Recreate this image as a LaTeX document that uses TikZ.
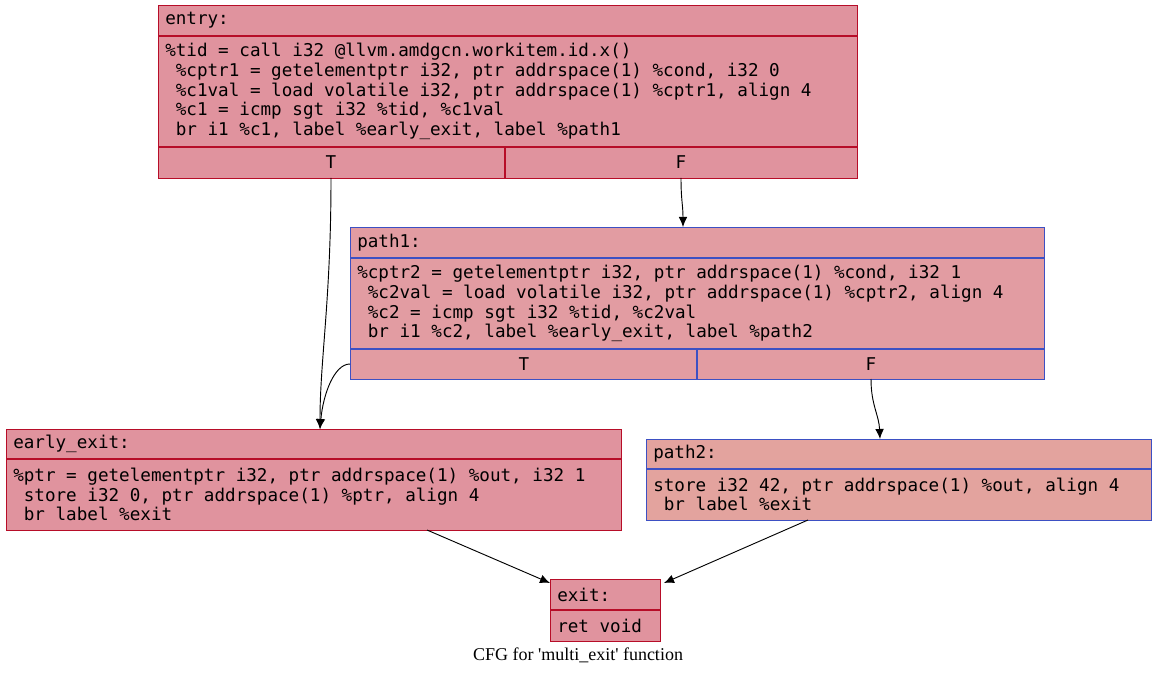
\documentclass[tikz,border=0pt]{standalone}
\usepackage{fontspec}
\setmonofont{DejaVu Sans Mono}
\newfontfamily\capfont{Liberation Serif}
\usetikzlibrary{arrows.meta}
\definecolor{fr}{RGB}{224,147,158}
\definecolor{fp}{RGB}{226,156,162}
\definecolor{fq}{RGB}{227,163,158}
\definecolor{br}{RGB}{183,13,40}
\definecolor{bb}{RGB}{61,80,195}
\tikzset{
 box/.style={draw=#1,line width=0.8pt,anchor=north west,inner sep=0pt},
 txt/.style={anchor=west,inner sep=0pt,align=left,font=\ttfamily\fontsize{13.2}{14.8}\selectfont},
 lab/.style={inner sep=0pt,font=\ttfamily\fontsize{13.2}{14.8}\selectfont},
 edge/.style={draw=black,line width=0.7pt,-{Latex[length=7.5pt,width=6.5pt]}}
}
\newcommand\lsp{\phantom{x}}
\begin{document}
\begin{tikzpicture}[x=0.75pt,y=-0.75pt]
\useasboundingbox (0,0) rectangle (1157,677);
% entry
\node[box=br,fill=fr,minimum width={699*0.75pt},minimum height={173*0.75pt}] (entry) at (158,5) {};
\draw[br,line width=0.8pt] (158,36) -- (857,36) (158,147) -- (857,147) (505,147) -- (505,178);
\node[txt] (entryh) at (165,20.5) {entry:};
\node[txt] (entryb) at (165,91.5) {\%tid = call i32 @llvm.amdgcn.workitem.id.x()\\
\lsp\%cptr1 = getelementptr i32, ptr addrspace(1) \%cond, i32 0\\
\lsp\%c1val = load volatile i32, ptr addrspace(1) \%cptr1, align 4\\
\lsp\%c1 = icmp sgt i32 \%tid, \%c1val\\
\lsp br i1 \%c1, label \%early\_exit, label \%path1};
\node[lab] (entryT) at (331,162.5) {T};
\node[lab] (entryF) at (681,162.5) {F};
% path1
\node[box=bb,fill=fp,minimum width={694*0.75pt},minimum height={152*0.75pt}] (path1) at (350,227) {};
\draw[bb,line width=0.8pt] (350,258) -- (1044,258) (350,349) -- (1044,349) (697,349) -- (697,379);
\node[txt] (path1h) at (357,242.5) {path1:};
\node[txt] (path1b) at (357,303.5) {\%cptr2 = getelementptr i32, ptr addrspace(1) \%cond, i32 1\\
\lsp\%c2val = load volatile i32, ptr addrspace(1) \%cptr2, align 4\\
\lsp\%c2 = icmp sgt i32 \%tid, \%c2val\\
\lsp br i1 \%c2, label \%early\_exit, label \%path2};
\node[lab] (path1T) at (524,364) {T};
\node[lab] (path1F) at (871,364) {F};
% early_exit
\node[box=br,fill=fr,minimum width={615*0.75pt},minimum height={101*0.75pt}] (early) at (6,429) {};
\draw[br,line width=0.8pt] (6,459) -- (621,459);
\node[txt] (earlyh) at (13,444) {early\_exit:};
\node[txt] (earlyb) at (13,494.5) {\%ptr = getelementptr i32, ptr addrspace(1) \%out, i32 1\\
\lsp store i32 0, ptr addrspace(1) \%ptr, align 4\\
\lsp br label \%exit};
% path2
\node[box=bb,fill=fq,minimum width={505*0.75pt},minimum height={81*0.75pt}] (path2) at (646,439) {};
\draw[bb,line width=0.8pt] (646,469) -- (1151,469);
\node[txt] (path2h) at (653,454) {path2:};
\node[txt] (path2b) at (653,494.5) {store i32 42, ptr addrspace(1) \%out, align 4\\
\lsp br label \%exit};
% exit
\node[box=br,fill=fr,minimum width={110*0.75pt},minimum height={62*0.75pt}] (exit) at (550,579) {};
\draw[br,line width=0.8pt] (550,610) -- (660,610);
\node[txt] (exith) at (557,594.5) {exit:};
\node[txt] (exitb) at (557,625.5) {ret void};
% caption
\node[inner sep=0pt,font=\capfont\fontsize{13.5}{15}\selectfont] (cap) at (578,655) {CFG for 'multi\_exit' function};
% connectors
\coordinate (eT) at (331,178);
\coordinate (eF) at (681,178);
\coordinate (pT) at (350,364);
\coordinate (pF) at (871,379);
\coordinate (eeTop) at (320,429);
\coordinate (p1Top) at (683,227);
\coordinate (p2Top) at (880,439);
\coordinate (eeBot) at (427,530);
\coordinate (p2Bot) at (808,520);
\coordinate (xL) at (550,583);
\coordinate (xR) at (664,583);
\draw[edge] (eT) .. controls (331,300) and (320,360) .. (eeTop);
\draw[edge] (pT) .. controls (334,364) and (323,395) .. (eeTop);
\draw[edge] (eF) .. controls (681,200) and (683,205) .. (p1Top);
\draw[edge] (pF) .. controls (871,405) and (879,415) .. (p2Top);
\draw[edge] (eeBot) -- (xL);
\draw[edge] (p2Bot) -- (xR);
\end{tikzpicture}
\end{document}
